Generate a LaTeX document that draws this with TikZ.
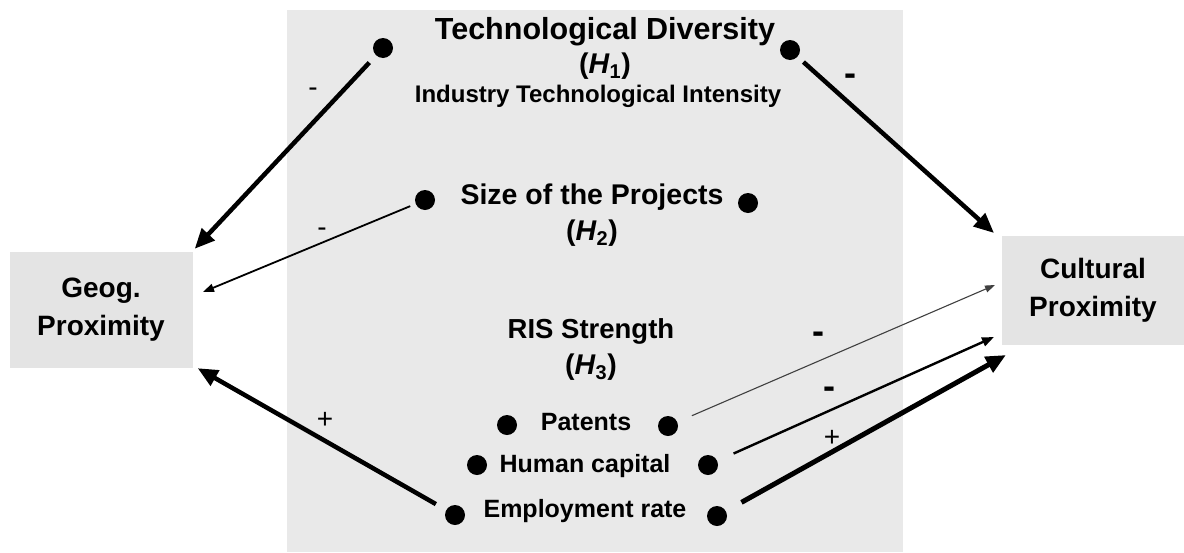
\documentclass[tikz,border=0pt]{standalone}
\usepackage{fontspec}
\setmainfont{Liberation Sans}
\usetikzlibrary{arrows.meta}
\definecolor{panelgray}{HTML}{E9E9E9}
\definecolor{boxgray}{HTML}{E4E4E4}

\begin{document}
\begin{tikzpicture}[x=1pt, y=-1pt,
    dot/.style={circle, fill=black, inner sep=0pt, minimum size=20pt, outer sep=4pt},
    proxbox/.style={fill=boxgray, align=center, minimum width=183pt, minimum height=116pt,
        font=\fontsize{28}{38}\selectfont\bfseries},
    hyp/.style={align=center, font=\fontsize{28.5}{34}\selectfont\bfseries},
    item/.style={font=\fontsize{25}{28}\selectfont\bfseries},
    sign/.style={font=\fontsize{28}{30}\selectfont},
    bigsign/.style={font=\fontsize{36}{36}\selectfont\bfseries},
    strong/.style={-{Triangle[length=20pt, width=17pt]}, line width=4.5pt},
    weak/.style={-{Triangle[length=11pt, width=8pt]}, line width=1.8pt}]
    \useasboundingbox (0,0) rectangle (1184,552);
    \fill[panelgray] (287,10) rectangle (903,552);

    % proximity boxes
    \node[proxbox] (geog) at (101,310) {Geog.\\Proximity};
    \node[proxbox, minimum height=109pt] (cult) at (1093,290) {Cultural\\Proximity};

    % hypotheses
    \node[hyp, font=\fontsize{30.5}{34}\selectfont\bfseries] (techdiv) at (605,32) {Technological Diversity};
    \node[hyp] (h1) at (605,66) {(\textit{H}\textsubscript{1})};
    \node[item, font=\fontsize{24}{28}\selectfont\bfseries] (intensity) at (598,96) {Industry Technological Intensity};
    \node[hyp] (size) at (592,197) {Size of the Projects};
    \node[hyp] (h2) at (592,233) {(\textit{H}\textsubscript{2})};
    \node[hyp, font=\fontsize{27.5}{34}\selectfont\bfseries] (ris) at (591,331) {RIS Strength};
    \node[hyp] (h3) at (591,367) {(\textit{H}\textsubscript{3})};
    \node[item] (patents) at (586,422) {Patents};
    \node[item] (human) at (585,466) {Human capital};
    \node[item] (employ) at (585,511) {Employment rate};

    % bullets
    \node[dot] (tdl) at (383,48) {};
    \node[dot] (tdr) at (790,50) {};
    \node[dot] (sizel) at (425,200) {};
    \node[dot] (sizer) at (748,203) {};
    \node[dot] (patl) at (507,425) {};
    \node[dot] (patr) at (668,426) {};
    \node[dot] (huml) at (477,465) {};
    \node[dot] (humr) at (708,465) {};
    \node[dot] (empl) at (455,515) {};
    \node[dot] (empr) at (717,516) {};

    % arrow ends
    \coordinate (geogmid) at (203,292);
    \coordinate (culttop) at (994,233);
    \coordinate (cultpat) at (995,285);
    \coordinate (culthum) at (994,337);
    \coordinate (cultemp) at (1006,355);

    % effects
    \draw[strong, shorten <=6pt] (tdl) -- ([xshift=2pt, yshift=3pt]geog.north east);
    \draw[weak, shorten <=2pt] (sizel) -- (geogmid);
    \draw[strong, shorten <=8pt] (empl) -- ([xshift=5pt]geog.south east);
    \draw[strong, shorten <=4pt] (tdr) -- (culttop);
    \draw[-{Triangle[length=10pt, width=7pt]}, line width=1.1pt, black!75, shorten <=12pt] (patr) -- (cultpat);
    \draw[-{Triangle[length=12pt, width=9pt]}, line width=2.4pt, shorten <=14pt] (humr) -- (culthum);
    \draw[strong, line width=5pt, shorten <=14pt] (empr) -- (cultemp);

    % signs
    \node[sign] (s1) at (313,92) {-};
    \node[sign] (s2) at (322,232) {-};
    \node[sign] (s3) at (325,420) {+};
    \node[bigsign] (s4) at (850,80) {-};
    \node[bigsign] (s5) at (818,338) {-};
    \node[bigsign] (s6) at (829,393) {-};
    \node[sign] (s7) at (832,438) {+};
\end{tikzpicture}
\end{document}
